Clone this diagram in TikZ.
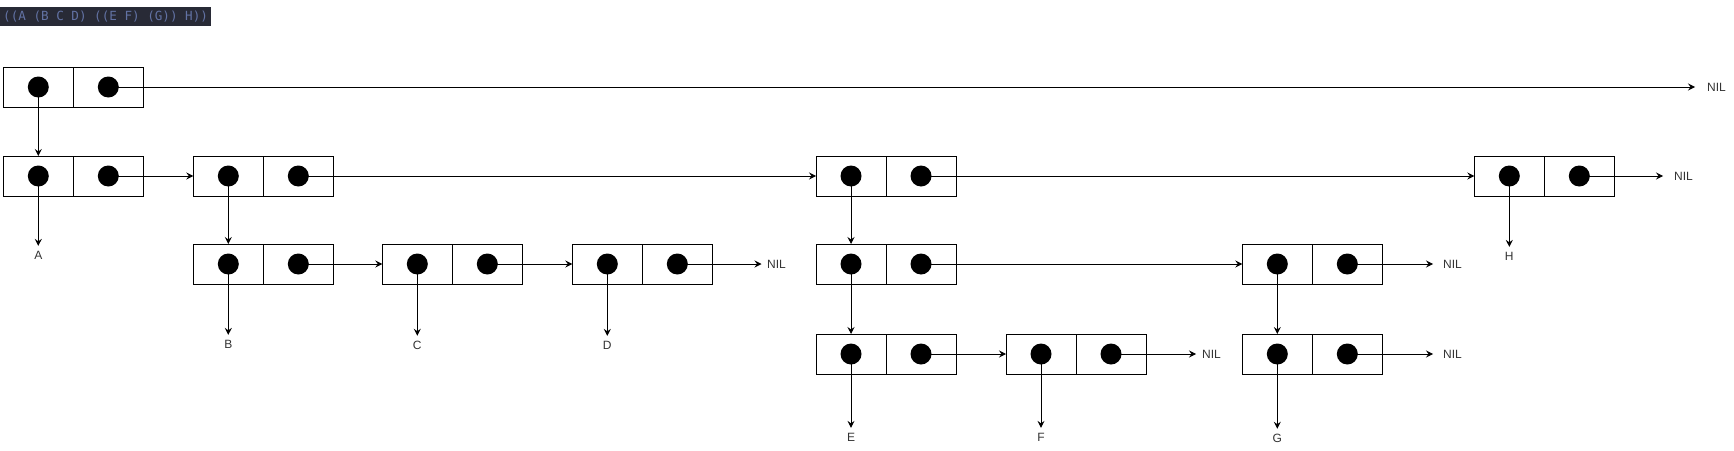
\documentclass[tikz,border=0pt]{standalone}
\usepackage{fontspec}
\setmainfont{Liberation Sans}
\newfontfamily\titlemono{DejaVu Sans Mono}
\usetikzlibrary{arrows.meta}
\definecolor{titlebg}{HTML}{282A36}
\definecolor{titlefg}{HTML}{6272A4}
\definecolor{labelfg}{HTML}{333333}
\tikzset{
  half/.style={draw=black, line width=1pt, minimum width=70pt, minimum height=40pt, inner sep=0pt, outer sep=0pt},
  dotsty/.style={fill=black},
  link/.style={draw=black, line width=1pt, -{Stealth[length=7pt,width=7pt,inset=2.5pt]}},
  lbl/.style={font=\fontsize{12pt}{14pt}\selectfont, text=labelfg, inner sep=0pt, outer ysep=5pt},
  nilsty/.style={font=\fontsize{12pt}{14pt}\selectfont, text=labelfg, inner sep=0pt, anchor=west},
  titlesty/.style={anchor=west, fill=titlebg, text=titlefg, font=\titlemono\fontsize{12.6pt}{15pt}\selectfont, inner xsep=3pt, inner ysep=0pt, minimum height=18.7pt},
}
\newcommand\conscell[3]{%
  \node[half] (#1a) at ({#2+35},#3) {};
  \node[half] (#1d) at ({#2+105},#3) {};
  \fill[dotsty] (#1a.center) circle (10.5pt);
  \fill[dotsty] (#1d.center) circle (10.5pt);
}
\begin{document}
\begin{tikzpicture}[x=1pt,y=-1pt]
\useasboundingbox (0,0) rectangle (1734,450);
\node[titlesty] (title) at (0,16.6) {((A (B C D) ((E F) (G)) H))};

% cells
\conscell{c1}{3.3}{87}
\conscell{c2}{3.3}{176}
\conscell{c3}{193.3}{176}
\conscell{c4}{816}{176}
\conscell{c5}{1474.3}{176}
\conscell{c6}{193.3}{264}
\conscell{c7}{382.3}{264}
\conscell{c8}{572.3}{264}
\conscell{c9}{816}{264}
\conscell{c10}{1242.3}{264}
\conscell{c11}{816}{354}
\conscell{c12}{1006}{354}
\conscell{c13}{1242.3}{354}

% labels
\node[lbl] (labA) at (38.3,255) {A};
\node[lbl] (labH) at (1509.3,256) {H};
\node[lbl] (labB) at (228.3,344) {B};
\node[lbl] (labC) at (417.3,345) {C};
\node[lbl] (labD) at (607.3,345) {D};
\node[lbl] (labE) at (851,437) {E};
\node[lbl] (labF) at (1041,437) {F};
\node[lbl] (labG) at (1277.3,438) {G};

% NIL
\node[nilsty] (nil1) at (1707,87) {NIL};
\node[nilsty] (nil5) at (1674,176) {NIL};
\node[nilsty] (nil8) at (767,264) {NIL};
\node[nilsty] (nil10) at (1443,264) {NIL};
\node[nilsty] (nil12) at (1202,354) {NIL};
\node[nilsty] (nil13) at (1443,354) {NIL};

% car links
\draw[link] (c1a.center) -- (c2a.north);
\draw[link] (c2a.center) -- (labA.north);
\draw[link] (c3a.center) -- (c6a.north);
\draw[link] (c4a.center) -- (c9a.north);
\draw[link] (c5a.center) -- (labH.north);
\draw[link] (c6a.center) -- (labB.north);
\draw[link] (c7a.center) -- (labC.north);
\draw[link] (c8a.center) -- (labD.north);
\draw[link] (c9a.center) -- (c11a.north);
\draw[link] (c10a.center) -- (c13a.north);
\draw[link] (c11a.center) -- (labE.north);
\draw[link] (c12a.center) -- (labF.north);
\draw[link] (c13a.center) -- (labG.north);

% cdr links
\draw[link, shorten >=12pt] (c1d.center) -- (nil1.west);
\draw[link] (c2d.center) -- (c3a.west);
\draw[link] (c3d.center) -- (c4a.west);
\draw[link] (c4d.center) -- (c5a.west);
\draw[link, shorten >=11pt] (c5d.center) -- (nil5.west);
\draw[link] (c6d.center) -- (c7a.west);
\draw[link] (c7d.center) -- (c8a.west);
\draw[link, shorten >=5.5pt] (c8d.center) -- (nil8.west);
\draw[link] (c9d.center) -- (c10a.west);
\draw[link, shorten >=10pt] (c10d.center) -- (nil10.west);
\draw[link] (c11d.center) -- (c12a.west);
\draw[link, shorten >=6pt] (c12d.center) -- (nil12.west);
\draw[link, shorten >=10pt] (c13d.center) -- (nil13.west);
\end{tikzpicture}
\end{document}
